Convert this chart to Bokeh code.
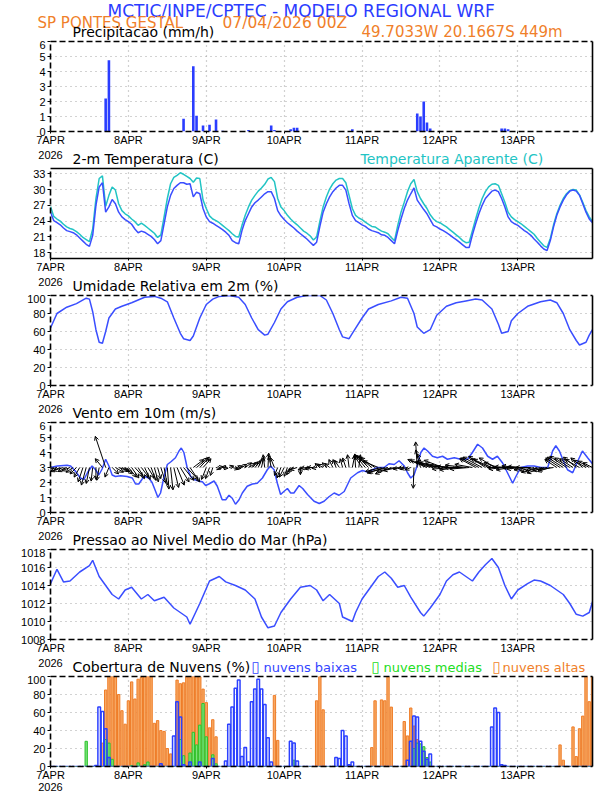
from bokeh.plotting import figure
from bokeh.layouts import column
from bokeh.models import Range1d, FixedTicker, LinearAxis, Label, Arrow, OpenHead, ColumnDataSource
from bokeh.embed import file_html
from bokeh.resources import INLINE

# ------------------------------------------------------------------ data
day_ticks = [0, 24, 48, 72, 96, 120, 144]
day_labels = ["7APR", "8APR", "9APR", "10APR", "11APR", "12APR", "13APR"]
year_label = "2026"
hours = list(range(168))

precip_hours = [17, 18, 41, 44, 45, 47, 49, 51, 53, 61, 68, 69, 74, 75, 76, 93, 113, 114, 115, 116, 117, 139, 140, 141]
precip_mm = [2.2, 4.75, 0.85, 4.35, 1.05, 0.4, 0.45, 0.8, 0.05, 0.1, 0.4, 0.1, 0.15, 0.25, 0.25, 0.15, 1.2, 1.0, 2.0, 0.6, 0.2, 0.2, 0.2, 0.15]

temp_2m = [25.7, 24.1, 23.7, 23.3, 22.7, 22.2, 22.0, 21.8, 21.4, 20.8,
           20.2, 19.6, 19.2, 21.3, 27.0, 30.5, 31.3, 25.7, 26.7, 28.1,
           27.3, 25.7, 24.8, 24.3, 23.9, 23.4, 22.5, 21.8, 22.1, 21.9,
           21.5, 21.1, 20.5, 19.7, 20.3, 23.5, 26.7, 28.9, 30.2, 30.8,
           31.3, 31.3, 31.0, 31.1, 28.6, 29.5, 29.2, 26.4, 24.8, 23.9,
           23.6, 23.2, 22.8, 22.4, 21.9, 21.3, 20.3, 19.9, 19.7, 22.2,
           24.1, 25.4, 26.7, 27.5, 28.0, 28.6, 29.2, 29.6, 29.6, 28.3,
           26.0, 25.0, 24.3, 23.7, 23.2, 22.7, 22.1, 21.6, 21.1, 20.6,
           20.0, 19.4, 20.0, 23.0, 25.7, 27.3, 28.6, 29.6, 30.3, 30.8,
           30.8, 29.9, 27.3, 25.1, 24.1, 23.7, 23.3, 23.0, 22.5, 22.2,
           22.0, 21.8, 21.4, 21.3, 20.9, 20.3, 19.7, 22.2, 24.4, 26.4,
           28.0, 29.2, 30.3, 28.0, 27.1, 26.2, 25.4, 24.3, 23.2, 22.9,
           22.5, 22.2, 21.8, 21.4, 20.9, 20.5, 20.0, 19.5, 19.0, 19.0,
           21.4, 23.5, 25.4, 27.0, 28.3, 29.0, 29.7, 29.9, 29.6, 28.3,
           26.7, 24.8, 23.9, 23.5, 23.2, 22.7, 22.2, 21.8, 21.3, 20.6,
           20.0, 19.3, 18.7, 18.4, 20.3, 22.9, 25.1, 26.7, 28.0, 29.0,
           29.7, 29.9, 29.7, 28.9, 27.3, 25.7, 24.4, 23.7]

temp_apparent = [26.8, 24.9, 24.4, 24.0, 23.4, 22.9, 22.6, 22.4, 22.0, 21.5,
                 20.9, 20.5, 20.1, 22.5, 28.3, 32.1, 32.6, 26.8, 28.9, 30.5,
                 29.9, 27.3, 26.0, 25.4, 25.0, 24.4, 23.9, 23.2, 23.6, 23.2,
                 22.7, 22.2, 21.7, 20.9, 21.4, 24.8, 28.3, 31.1, 32.3, 32.7,
                 33.2, 32.9, 32.5, 32.1, 31.4, 32.2, 32.1, 28.0, 26.4, 25.0,
                 24.4, 24.1, 23.7, 23.2, 22.7, 22.2, 21.6, 21.1, 21.0, 23.2,
                 25.1, 26.7, 28.0, 28.9, 29.7, 30.3, 31.0, 32.0, 32.3, 31.5,
                 28.3, 26.7, 26.0, 25.1, 24.4, 23.8, 23.3, 22.7, 22.1, 21.7,
                 21.2, 20.4, 21.0, 24.0, 26.7, 28.6, 30.1, 31.1, 31.8, 32.1,
                 32.1, 31.3, 28.9, 26.4, 25.1, 24.6, 24.3, 23.8, 23.4, 23.0,
                 22.9, 22.5, 22.1, 21.9, 21.6, 20.9, 20.3, 23.2, 25.7, 27.6,
                 29.6, 31.1, 31.9, 29.6, 28.3, 27.3, 26.4, 25.2, 24.4, 23.9,
                 23.7, 23.3, 22.9, 22.4, 21.9, 21.4, 20.9, 20.3, 19.9, 20.0,
                 22.2, 24.4, 26.5, 28.3, 29.6, 30.5, 31.0, 31.1, 30.8, 29.2,
                 27.6, 25.7, 24.8, 24.3, 23.9, 23.5, 23.0, 22.5, 22.0, 21.5,
                 20.7, 20.0, 19.3, 19.0, 20.7, 23.3, 25.4, 27.0, 28.3, 29.2,
                 29.8, 30.0, 29.9, 29.0, 27.6, 26.0, 24.8, 23.9]

rh_hours = [0, 1, 2, 5, 8, 11, 12, 13, 14, 15, 16, 17, 18, 20, 22, 25, 27, 29, 32, 34, 36, 38, 40, 41, 43, 44, 46, 48,
            50, 52, 55, 58, 60, 62, 64, 66, 67, 69, 71, 73, 76, 79, 83, 85, 87, 89, 90, 92, 93, 96, 98, 101, 105, 108,
            110, 112, 113, 115, 117, 119, 122, 125, 128, 131, 133, 136, 138, 139, 141, 142, 144, 147, 151, 154, 156,
            158, 160, 162, 163, 165, 166, 167]
rh_pct = [64, 72, 80, 87, 91, 97, 96, 82, 62, 48, 47, 60, 75, 85, 88, 92, 95, 98, 99, 97, 93, 75, 58, 52, 50, 55, 75, 90,
          96, 99, 100, 98, 90, 75, 62, 56, 57, 70, 85, 93, 98, 100, 100, 95, 80, 62, 54, 52, 58, 75, 85, 90, 94, 98,
          97, 80, 65, 58, 62, 78, 88, 92, 94, 96, 95, 85, 68, 58, 60, 72, 80, 88, 93, 95, 92,
          80, 62, 50, 45, 48, 56, 62]

wind_hours = [0, 2.1, 5.1, 6.2, 7.7, 9.2, 10.3, 11.5, 12.8, 13.9, 14.9, 15.9, 17.0, 18.0, 19.0, 20.0, 21.6, 23.6, 25.2,
              26.2, 27.2, 28.8, 30.3, 31.3, 32.4, 33.1, 33.9, 34.9, 36.0, 37.2, 38.5, 39.6, 40.3, 41.1, 42.1, 43.2,
              44.2, 45.7, 46.8, 47.8, 48.8, 50.4, 51.4, 52.9, 54.0, 55.0, 56.0, 57.0, 58.1, 59.1, 60.6, 62.2, 63.7,
              65.3, 66.8, 67.8, 68.9, 69.9, 70.9, 71.9, 73.0, 74.0, 75.0, 76.6, 77.7, 79.2, 81.2, 82.8, 84.3, 85.8,
              87.4, 88.9, 90.5, 92.5, 94.6, 96.1, 97.7, 99.2, 100.7, 102.8, 104.3, 105.9, 107.4, 109.0, 110.0, 111.0,
              112.0, 113.1, 114.1, 115.1, 116.2, 117.7, 119.2, 120.8, 122.3, 124.4, 126.4, 128.5, 130.0, 131.6,
              133.1, 134.7, 136.2, 137.7, 139.3, 140.8, 142.4, 143.4, 144.9, 147.0, 149.0, 151.1, 153.2, 154.7,
              155.7, 156.8, 158.3, 159.3, 160.9, 162.4, 163.9, 165.5, 167.0]
wind_speed = [3.0, 3.1, 3.15, 3.1, 2.75, 2.3, 2.2, 2.7, 3.1, 2.85, 2.5, 2.9, 3.55, 3.1, 2.5, 2.4, 2.45, 2.4, 2.3, 1.9,
              1.9, 2.4, 2.3, 2.0, 1.4, 1.0, 1.3, 2.3, 3.2, 3.4, 3.65, 4.1, 4.3, 4.0, 3.0, 2.4, 2.2, 2.1, 2.05, 1.8,
              1.9, 2.1, 1.75, 0.85, 0.85, 1.15, 0.95, 0.55, 0.85, 1.3, 1.75, 1.9, 1.95, 2.3, 2.85, 3.1, 2.85, 1.95,
              1.2, 1.4, 1.6, 1.3, 1.3, 1.8, 1.6, 1.2, 0.75, 0.6, 0.75, 1.05, 1.3, 1.15, 1.4, 2.3, 2.65, 2.8, 2.7,
              2.85, 3.0, 3.0, 3.25, 3.2, 3.45, 3.1, 2.65, 2.3, 2.5, 3.2, 4.0, 4.3, 4.1, 3.75, 3.65, 3.75, 3.55, 3.65,
              3.55, 3.55, 4.0, 4.55, 4.3, 3.75, 3.55, 3.75, 3.3, 2.65, 1.95, 2.4, 3.0, 3.1, 3.1, 3.0, 3.0, 4.1, 4.45,
              4.1, 3.3, 2.85, 2.65, 3.4, 4.1, 3.65, 3.25]

wind_u = [-1.0, -1.2, -1.1, -1.2, -1.3, -1.1, -1.0, -0.9, -0.8, -0.7,
          -0.6, -0.6, -0.4, -0.2, 0.0, -0.3, -0.9, -1.3, -0.5, 0.8,
          1.0, 1.1, 1.0, 0.9, 1.0, 0.9, 1.0, 0.8, 0.9, 0.7,
          0.8, 0.6, 0.5, 0.4, 0.6, 0.4, 0.2, 0.3, 0.6, 0.9,
          1.1, 1.3, 1.4, 1.2, 1.3, 1.4, 1.2, 1.0, -0.6, -0.5,
          -0.3, 0.6, 0.5, 0.7, -0.5, 0.6, 0.8, 0.7, 0.5, 0.6,
          0.8, 0.9, 0.8, 0.7, 0.5, 0.3, -0.2, 0.1, -0.3, -0.5,
          -0.4, -0.5, -0.6, -0.4, -0.5, -0.8, -0.9, 0.0, -0.7, -0.8,
          -0.7, -0.8, -0.6, -0.6, -0.7, -0.5, -0.6, -0.5, -0.4, -0.6,
          -0.3, -0.4, -0.2, 0.3, -0.1, 0.2, -1.0, -1.3, -1.5, -1.6,
          -1.8, -1.9, -2.0, -2.2, -2.4, -2.0, -2.2, -1.8, -1.0, -0.8,
          -0.9, -0.7, -0.1, -0.2, -0.6, -0.8, -2.4, -2.5, -2.3, -2.5,
          -2.6, -2.4, -2.6, -2.5, -2.6, -2.4, -2.5, -2.3, -2.6, -2.4,
          -2.2, -2.0, -2.3, -2.4, -2.1, -2.2, -2.3, -2.0, -1.8, -1.8,
          -2.0, -1.7, -1.9, -1.6, -2.0, -1.8, -2.1, -1.7, -1.9, -1.8,
          -2.0, -1.9, -2.1, -1.8, -1.6, -1.9, -1.5, -1.8, -2.0, -2.1,
          -1.9, -1.7, -1.6, -1.8, -1.5, -1.6, -1.4, -1.2]
wind_v = [-0.3, -0.4, -0.3, -0.5, -0.4, -0.5, -0.4, -0.6, -0.8, -1.2,
          -1.8, -2.2, -2.0, -1.7, -1.5, -1.6, 1.1, 3.9, -1.2, -0.8,
          -0.6, -0.4, -0.5, -0.8, -1.2, -1.3, -1.1, -1.4, -1.2, -1.5,
          -1.3, -1.6, -1.8, -1.4, -1.9, -2.2, -2.7, -2.8, -2.5, -2.2,
          -1.8, -1.6, -1.5, -1.8, 1.0, 1.2, 1.3, 1.1, -1.5, -1.4,
          -1.0, -0.2, 0.1, -0.1, 0.1, 0.2, -0.2, -0.1, 0.2, 0.4,
          0.6, 0.5, 0.7, 0.8, 1.1, 1.3, 1.6, 1.8, 1.5, 1.2,
          -1.0, -1.3, -1.2, -1.1, -0.9, -0.5, -0.3, -0.9, -0.3, -0.1,
          -0.2, 0.0, -0.1, 0.5, 0.4, 0.6, 0.5, 1.0, 1.0, 0.9,
          1.1, 1.2, 1.6, 1.5, 1.7, 1.6, 1.5, 1.6, 1.5, 1.3,
          1.2, 0.8, -0.5, -0.7, -0.6, -0.8, -0.5, -0.4, -0.2, -0.1,
          -0.2, -0.3, -2.6, 3.2, 2.2, 1.7, 1.0, 0.9, 0.7, 0.8,
          0.6, 0.9, 0.5, 0.2, -0.2, 0.1, -0.3, 0.0, 0.3, -0.2,
          0.4, 1.1, 1.2, 1.3, 1.4, 1.1, 1.0, 1.2, 0.6, 0.0,
          -0.2, 0.1, -0.3, 0.0, 0.2, -0.2, 0.1, -0.3, 0.0, -0.4,
          -0.6, -0.5, -0.7, -0.4, -0.5, -0.3, 1.0, 1.2, 1.3, 1.4,
          1.2, 1.1, 1.3, 1.0, 1.2, 0.9, 0.8, 0.6]

pres_hours = [0, 2, 4, 6, 9, 12, 13, 15, 18, 19, 21, 23, 25, 28, 30, 32, 35, 38, 42, 43, 46, 49, 52, 54, 57, 60, 63,
              65, 67, 69, 71, 74, 77, 80, 82, 84, 86, 89, 90, 93, 94, 96, 99, 101, 103, 105, 107, 109, 111, 114, 115,
              117, 120, 122, 124, 126, 128, 130, 132, 134, 136, 138, 140, 142, 144, 147, 149, 151, 154, 156, 158, 160,
              162, 164, 166, 167]
pres_hpa = [1014.2, 1015.8, 1014.4, 1014.5, 1015.5, 1016.2, 1016.8, 1015.0, 1013.5, 1013.0, 1012.5, 1013.5, 1013.8,
            1012.5, 1013.0, 1012.3, 1012.7, 1011.5, 1010.5, 1009.7, 1012.0, 1014.5, 1015.0, 1014.4, 1014.0, 1013.5,
            1012.5, 1010.5, 1009.3, 1009.5, 1011.0, 1012.5, 1013.8, 1014.0, 1013.5, 1012.3, 1013.0, 1012.0, 1010.5,
            1010.0, 1011.0, 1012.5, 1014.0, 1015.0, 1015.5, 1014.8, 1013.8, 1014.0, 1012.7, 1011.0, 1010.6, 1011.5,
            1013.0, 1014.5, 1015.2, 1015.5, 1015.0, 1014.5, 1015.5, 1016.3, 1017.0, 1016.0, 1014.0, 1012.5, 1013.5,
            1014.2, 1014.6, 1014.5, 1014.0, 1013.5, 1013.0, 1012.0, 1010.8, 1010.6, 1011.0, 1012.2]

cloud_low_hours = [14, 15, 16, 17, 18, 34, 38, 39, 40, 41, 43, 46, 50, 54, 55, 56, 57, 58, 59, 60, 61, 62, 63, 64, 65,
                   66, 67, 68, 74, 75, 76, 88, 89, 90, 91, 92, 93, 110, 111, 112, 113, 114, 115, 116, 117, 136, 137,
                   138, 139, 140]
cloud_low_pct = [1, 66, 61, 42, 10, 3, 34, 72, 55, 2, 5, 5, 9, 6, 47, 66, 87, 96, 11, 21, 5, 72, 86, 97, 86,
                 69, 32, 5, 28, 26, 6, 10, 9, 40, 34, 2, 5, 7, 28, 56, 55, 28, 17, 8, 14, 44, 65,
                 60, 2, 1]
cloud_mid_hours = [11, 17, 18, 19, 25, 27, 29, 30, 40, 41, 43, 44, 45, 46, 47, 48, 50, 51, 75, 112, 113, 114, 115, 116,
                   117]
cloud_mid_pct = [28, 30, 26, 8, 1, 4, 2, 5, 30, 12, 15, 38, 24, 46, 70, 33, 13, 3, 7, 20, 26, 25, 22, 10, 5]
cloud_high_hours = [16, 17, 18, 19, 20, 21, 22, 23, 24, 25, 26, 27, 28, 29, 30, 31, 32, 33, 34, 35, 36, 37, 39, 40, 41,
                    42, 43, 44, 45, 46, 47, 48, 49, 50, 51, 69, 70, 82, 83, 84, 99, 100, 102, 103, 104, 105, 109, 110,
                    111, 112, 113, 114, 115, 116, 157, 158, 161, 162, 163, 164, 165, 166, 167]
cloud_high_pct = [26, 85, 100, 100, 100, 80, 62, 47, 73, 94, 75, 97, 99, 100, 100, 100, 48, 51, 40, 39, 20, 14, 96, 92,
                  93, 100, 100, 100, 100, 100, 86, 71, 43, 52, 33, 79, 29, 73, 100, 63, 21, 73, 74, 73, 100, 66, 50,
                  34, 65, 45, 30, 25, 15, 10, 24, 7, 44, 11, 42, 56, 100, 72, 100]

# ------------------------------------------------------------------ style
TITLE_FONT = "DejaVu Sans"
TICK_FONT = "Liberation Sans"
FIG_W = 610
LEFT_B = 50
FW, FH = 542, 90
X_END = 167
BLUE_LINE = "#3a4eff"
ORANGE_TXT = "#f07f2a"
CYAN = "#22c4c4"
GRID = "#a4a4a4"
STRIP_H = 19
HEAD_H = 40
TITLE_Y = 3.6
BASELINE_SHIFT = 0.32   # label baseline correction, in em


def panel(y0, y1, yticks, dashed_tb=True, last=False):
    p = figure(frame_width=FW, frame_height=FH, x_range=Range1d(0, X_END), y_range=Range1d(y0, y1),
               output_backend="svg", toolbar_location=None, frame_align=False,
               min_border_left=LEFT_B, min_border_right=FIG_W - LEFT_B - FW, min_border_top=1, min_border_bottom=16,
               outline_line_color=None, background_fill_color="white", border_fill_color="white")
    xa = p.xaxis[0]
    ya = p.yaxis[0]
    xa.ticker = FixedTicker(ticks=day_ticks)
    labels = dict(zip(day_ticks, day_labels))
    if last:
        labels[day_ticks[0]] = day_labels[0] + "\n" + year_label
        xa.major_label_text_line_height = 1.0
    xa.major_label_overrides = labels
    ya.ticker = FixedTicker(ticks=yticks)
    for ax in (xa, ya):
        ax.major_label_text_font = TICK_FONT
        ax.major_label_text_font_size = "11px"
        ax.major_label_text_color = "black"
        ax.major_tick_in = 0
        ax.minor_tick_out = 0
        ax.minor_tick_in = 0
        ax.major_tick_line_color = "black"
        ax.major_tick_line_width = 1
        ax.axis_line_color = "black"
        ax.axis_line_width = 1.6
    xa.major_tick_out = 2
    ya.major_tick_out = 3
    xa.major_label_standoff = 0
    ya.major_label_standoff = 2
    ya.axis_line_dash = "6 3"
    xa.axis_line_dash = "6 3" if dashed_tb else "solid"
    top_ax = LinearAxis(ticker=FixedTicker(ticks=[]), axis_line_width=1.6, axis_line_color="black",
                        axis_line_dash=("6 3" if dashed_tb else "solid"),
                        major_tick_out=0, major_tick_in=0, minor_tick_out=0, minor_tick_in=0)
    p.add_layout(top_ax, "above")
    right_ax = LinearAxis(ticker=FixedTicker(ticks=[]), axis_line_width=1.6, axis_line_color="black",
                          major_tick_out=0, major_tick_in=0, minor_tick_out=0, minor_tick_in=0)
    p.add_layout(right_ax, "right")
    for g in (p.xgrid[0], p.ygrid[0]):
        g.grid_line_color = GRID
        g.grid_line_dash = "1 4"
        g.grid_line_width = 1.2
    return p


def strip(height):
    s = figure(width=FIG_W, height=height, x_range=Range1d(0, FIG_W), y_range=Range1d(0, height),
               output_backend="svg", toolbar_location=None, min_border=0, frame_align=False,
               x_axis_location=None, y_axis_location=None, outline_line_color=None,
               background_fill_color="white", border_fill_color="white")
    s.xgrid.visible = False
    s.ygrid.visible = False
    return s


def txt(p, x, y, text, size, color="black", font=TITLE_FONT, align="left"):
    p.add_layout(Label(x=x, y=y + BASELINE_SHIFT * size, x_units="screen", y_units="screen", text=text,
                       text_font=font, text_font_size="%gpx" % size, text_color=color,
                       text_align=align, text_baseline="alphabetic"))


def year_and_title(s, title=None):
    txt(s, 50, 9, year_label, 11, font=TICK_FONT, align="center")
    if title:
        txt(s, 72, TITLE_Y, title, 14)


# ---------------------------------------------------------------- header
head = strip(HEAD_H)
txt(head, 107, HEAD_H - 16.2, "MCTIC/INPE/CPTEC - MODELO REGIONAL WRF", 17, "#2b3cff")
txt(head, 37, HEAD_H - 27.2, "SP PONTES GESTAL", 15, ORANGE_TXT)
txt(head, 222, HEAD_H - 27.2, "07/04/2026 00Z", 15.5, ORANGE_TXT)
txt(head, 72, TITLE_Y, "Precipitacao (mm/h)", 14)
txt(head, 361, TITLE_Y, "49.7033W 20.1667S 449m", 15, ORANGE_TXT)

# ---------------------------------------------------------------- panel 1 precip
p1 = panel(0, 6, [0, 1, 2, 3, 4, 5, 6])
p1.vbar(x=precip_hours, top=precip_mm, width=0.8, fill_color="#2a3dff", line_color=None)
s1 = strip(STRIP_H)
year_and_title(s1, "2-m Temperatura (C)")
txt(s1, 360, TITLE_Y, "Temperatura Aparente (C)", 14, CYAN)

# ---------------------------------------------------------------- panel 2 temperature
p2 = panel(16.9, 34.0, [18, 21, 24, 27, 30, 33], dashed_tb=False)
p2.line(hours, temp_apparent, line_color=CYAN, line_width=1.5)
p2.line(hours, temp_2m, line_color=BLUE_LINE, line_width=1.5)
s2 = strip(STRIP_H)
year_and_title(s2, "Umidade Relativa em 2m (%)")

# ---------------------------------------------------------------- panel 3 humidity
p3 = panel(0, 100, [0, 20, 40, 60, 80, 100])
p3.line(rh_hours, rh_pct, line_color=BLUE_LINE, line_width=1.5)
s3 = strip(STRIP_H)
year_and_title(s3, "Vento em 10m (m/s)")

# ---------------------------------------------------------------- panel 4 wind
p4 = panel(0, 6, [0, 1, 2, 3, 4, 5, 6])
PX_PER_MS = 8.0
kx = PX_PER_MS / (FW / X_END)
ky = PX_PER_MS / (FH / 6.0)
arrow_src = ColumnDataSource(dict(
    x0=hours, y0=[3.0] * len(hours),
    x1=[h + u * kx for h, u in zip(hours, wind_u)],
    y1=[3.0 + v * ky for v in wind_v]))
p4.add_layout(Arrow(source=arrow_src, x_start="x0", y_start="y0", x_end="x1", y_end="y1",
                    line_color="black", line_width=1,
                    end=OpenHead(size=4, line_color="black", line_width=1)))
p4.line(wind_hours, wind_speed, line_color=BLUE_LINE, line_width=1.5)
s4 = strip(STRIP_H)
year_and_title(s4, "Pressao ao Nivel Medio do Mar (hPa)")

# ---------------------------------------------------------------- panel 5 pressure
p5 = panel(1008, 1018, [1008, 1010, 1012, 1014, 1016, 1018])
p5.line(pres_hours, pres_hpa, line_color=BLUE_LINE, line_width=1.5)
s5 = strip(STRIP_H)
year_and_title(s5, "Cobertura de Nuvens (%)")
txt(s5, 251, TITLE_Y, "\u25af", 15, "#3344ff")
txt(s5, 263, TITLE_Y, "nuvens baixas", 13, "#3344ff")
txt(s5, 371, TITLE_Y, "\u25af", 15, "#22dd22")
txt(s5, 383, TITLE_Y, "nuvens medias", 13, "#22dd22")
txt(s5, 492, TITLE_Y, "\u25af", 15, ORANGE_TXT)
txt(s5, 502, TITLE_Y, "nuvens altas", 13, ORANGE_TXT)

# ---------------------------------------------------------------- panel 6 clouds
p6 = panel(0, 100, [0, 20, 40, 60, 80, 100], last=True)
low_full = [0.0] * len(hours)
mid_full = [0.0] * len(hours)
high_full = [0.0] * len(hours)
for h, v in zip(cloud_low_hours, cloud_low_pct):
    low_full[h] = v
for h, v in zip(cloud_mid_hours, cloud_mid_pct):
    mid_full[h] = v
for h, v in zip(cloud_high_hours, cloud_high_pct):
    high_full[h] = v
p6.vbar(x=hours, top=high_full, width=0.72, fill_color="#f7a863", line_color="#ef7d28", line_width=1)
p6.vbar(x=hours, top=mid_full, width=0.72, fill_color="#7be27b", line_color="#2cc42c", line_width=1)
p6.vbar(x=hours, top=low_full, width=0.8, fill_color=None, line_color="#2b40ff", line_width=1.5)

layout = column(head, p1, s1, p2, s2, p3, s3, p4, s4, p5, s5, p6, spacing=0)
open("out.html", "w").write(file_html(layout, INLINE))
